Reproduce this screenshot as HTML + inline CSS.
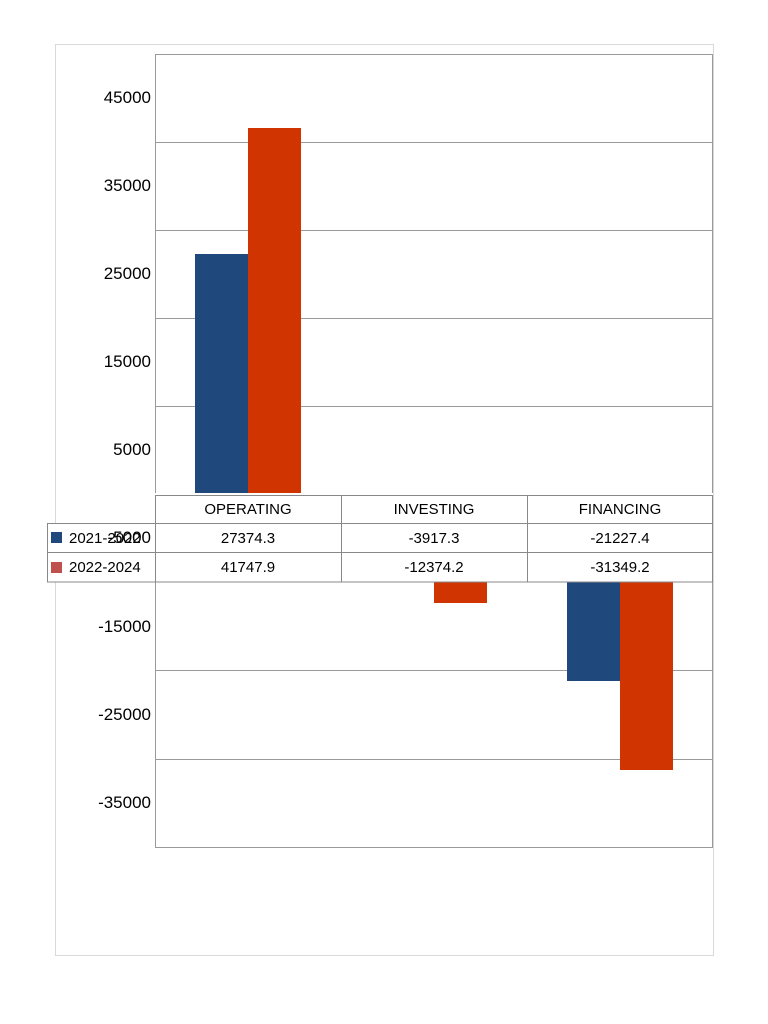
<!DOCTYPE html>
<html><head><style>body{margin:0;background:#fff}svg{display:block}</style></head><body>
<svg width="768" height="1024" xmlns="http://www.w3.org/2000/svg" font-family="Liberation Sans, sans-serif">
<rect x="55.5" y="44.5" width="658" height="911" fill="#fff" stroke="#d9d9d9"/>
<g stroke="#9a9a9a" stroke-width="1">
<line x1="155" y1="54.5" x2="713" y2="54.5"/>
<line x1="155" y1="142.5" x2="713" y2="142.5"/>
<line x1="155" y1="230.5" x2="713" y2="230.5"/>
<line x1="155" y1="318.5" x2="713" y2="318.5"/>
<line x1="155" y1="406.5" x2="713" y2="406.5"/>
<line x1="155" y1="670.5" x2="713" y2="670.5"/>
<line x1="155" y1="759.5" x2="713" y2="759.5"/>
<line x1="155" y1="847.5" x2="713" y2="847.5"/>
<line x1="155.5" y1="54" x2="155.5" y2="847"/>
<line x1="712.5" y1="54" x2="712.5" y2="847"/>
</g>
<rect x="195" y="254" width="53" height="241" fill="#1f497d"/>
<rect x="248" y="128" width="53" height="367" fill="#d03400"/>
<rect x="381" y="494" width="53" height="34" fill="#1f497d"/>
<rect x="434" y="494" width="53" height="109" fill="#d03400"/>
<rect x="567" y="494" width="53" height="187" fill="#1f497d"/>
<rect x="620" y="494" width="53" height="276" fill="#d03400"/>
<g font-size="17" fill="#000" text-anchor="end">
<text x="151" y="103">45000</text>
<text x="151" y="191">35000</text>
<text x="151" y="279">25000</text>
<text x="151" y="367">15000</text>
<text x="151" y="455">5000</text>
<text x="151" y="632">-15000</text>
<text x="151" y="720">-25000</text>
<text x="151" y="808">-35000</text>
</g>
<rect x="155" y="493" width="558" height="89" fill="#fff"/>
<rect x="155.5" y="495.5" width="557" height="86.5" fill="none" stroke="#888"/>
<rect x="47.5" y="523.5" width="108" height="58.5" fill="#fff" stroke="#888"/>
<g stroke="#888">
<line x1="47" y1="552.5" x2="713" y2="552.5"/>
<line x1="155" y1="523.5" x2="713" y2="523.5"/>
<line x1="341.5" y1="495" x2="341.5" y2="582"/>
<line x1="527.5" y1="495" x2="527.5" y2="582"/>
</g>
<rect x="51" y="532" width="11" height="11" fill="#1f497d"/>
<rect x="51" y="562" width="11" height="11" fill="#c0504d"/>
<g font-size="15" fill="#000">
<text x="69" y="543">2021-2022</text>
<text x="69" y="572">2022-2024</text>
<text x="151" y="543" text-anchor="end" font-size="17">-5000</text>
</g>
<g font-size="15" fill="#000" text-anchor="middle">
<text x="248" y="514">OPERATING</text>
<text x="434" y="514">INVESTING</text>
<text x="620" y="514">FINANCING</text>
<text x="248" y="543">27374.3</text>
<text x="434" y="543">-3917.3</text>
<text x="620" y="543">-21227.4</text>
<text x="248" y="572">41747.9</text>
<text x="434" y="572">-12374.2</text>
<text x="620" y="572">-31349.2</text>
</g>
</svg>
</body></html>
